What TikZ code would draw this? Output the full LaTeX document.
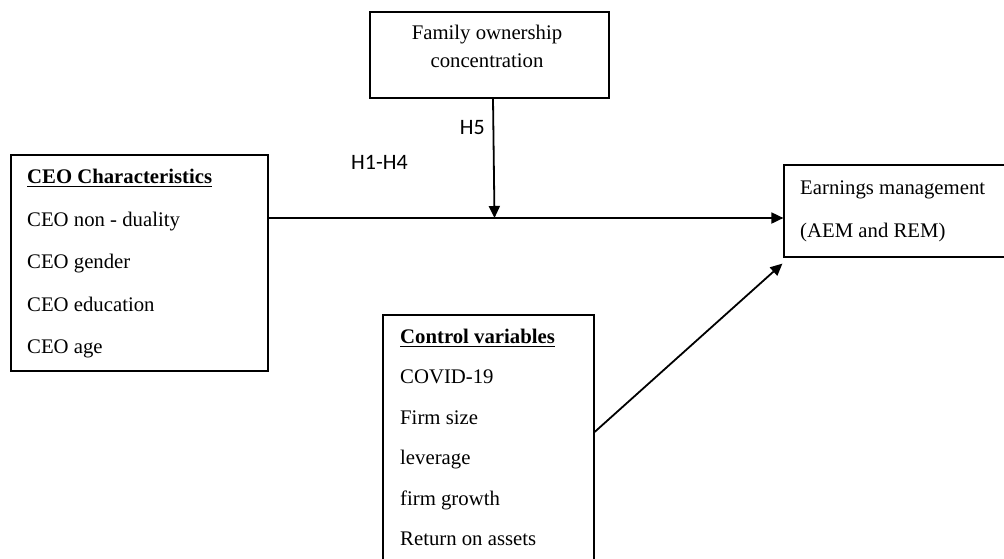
\documentclass[tikz,border=0pt]{standalone}
\usepackage{fontspec}
\setmainfont{Liberation Serif}
\newfontfamily\calib{Carlito}
\usetikzlibrary{arrows.meta}
\tikzset{
  boxshape/.style={draw, line width=1.2pt, rectangle, inner sep=0pt},
  txt/.style={inner sep=0pt, anchor=base west, font=\fontsize{20.75}{24}\selectfont},
  ctxt/.style={inner sep=0pt, anchor=base, font=\fontsize{20.75}{24}\selectfont},
  hlab/.style={inner sep=0pt, font=\calib\fontsize{22}{26}\selectfont},
  arr/.style={line width=1.8pt, -{Triangle[length=12pt,width=11pt]}},
  uline/.style={line width=1.5pt}
}
\begin{document}
\begin{tikzpicture}[x=1pt,y=-1pt]
\useasboundingbox (0,0) rectangle (1004,558);
\fill[white] (0,0) rectangle (1004,558);
\clip (0,0) rectangle (1004,558);
% boxes
\node[boxshape, minimum width=239pt, minimum height=86pt] (fam) at (489.5,55) {};
\node[boxshape, minimum width=257pt, minimum height=216pt] (ceo) at (139.5,263) {};
\node[boxshape, minimum width=320pt, minimum height=92pt] (earn) at (944,211) {};
\node[boxshape, minimum width=211pt, minimum height=285pt] (ctrl) at (488.5,457.5) {};
% family text
\node[ctxt] (f1) at (487,39) {Family ownership};
\node[ctxt] (f2) at (487,67) {concentration};
% CEO text
\node[txt, font=\bfseries\fontsize{20.75}{24}\selectfont] (c0) at (27,183) {CEO Characteristics};
\draw[uline] ([yshift=-3.5pt]c0.base west) -- ([yshift=-3.5pt]c0.base east);
\node[txt] (c1) at (27,226) {CEO non - duality};
\node[txt] (c2) at (27,268) {CEO gender};
\node[txt] (c3) at (27,311) {CEO education};
\node[txt] (c4) at (27,353) {CEO age};
% Earnings text
\node[txt] (e1) at (800,194) {Earnings management};
\node[txt] (e2) at (800,237) {(AEM and REM)};
% Control text
\node[txt, font=\bfseries\fontsize{20.75}{24}\selectfont] (k0) at (400,343) {Control variables};
\draw[uline] ([yshift=-3.5pt]k0.base west) -- ([yshift=-3.5pt]k0.base east);
\node[txt] (k1) at (400,383.5) {COVID-19};
\node[txt] (k2) at (400,424) {Firm size};
\node[txt] (k3) at (400,464.5) {leverage};
\node[txt] (k4) at (400,505) {firm growth};
\node[txt] (k5) at (400,545.5) {Return on assets};
% hypothesis labels
\node[hlab, anchor=base east] (h5) at (485,134) {H5};
\node[hlab, anchor=base west] (h14) at (351,169) {H1-H4};
% connectors
\coordinate (mid) at (494.5,218);
\draw[arr] (ceo.east |- mid) -- (earn.west |- mid);
\draw[arr] ([xshift=3.5pt]fam.south) -- (mid);
\draw[arr] ([yshift=25.5pt]ctrl.east) -- ([shift={(-1,6)}]earn.south west);
\end{tikzpicture}
\end{document}
